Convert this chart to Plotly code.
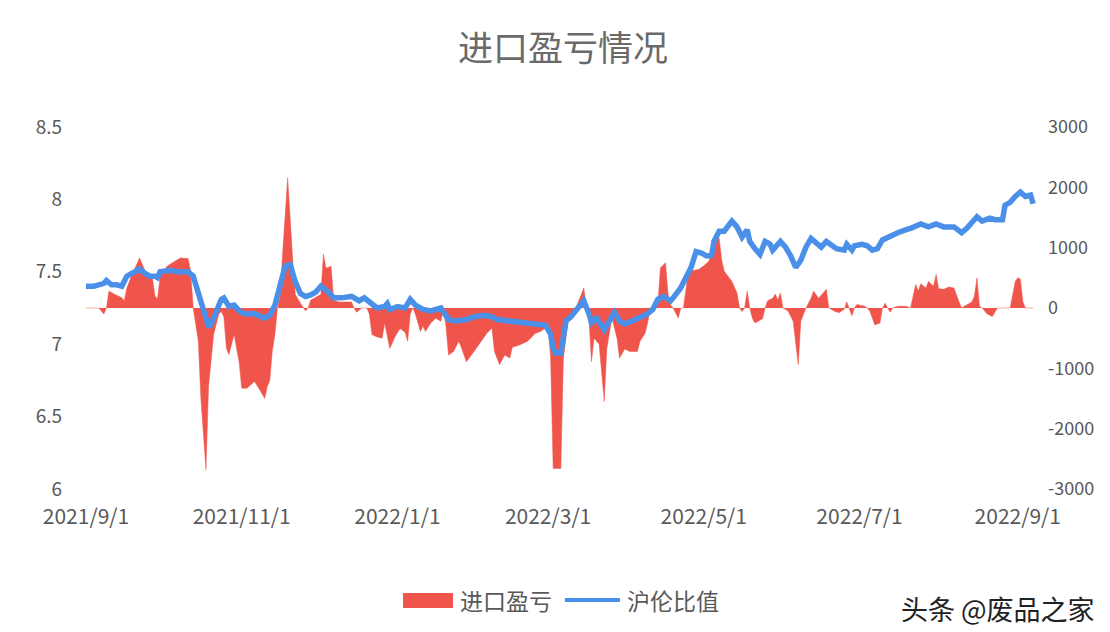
import plotly.graph_objects as go

# 进口盈亏 (right axis)
pl_dates = ["2021-09-01","2021-09-03","2021-09-06","2021-09-08","2021-09-09","2021-09-10","2021-09-12","2021-09-15","2021-09-16","2021-09-17","2021-09-19","2021-09-22","2021-09-25","2021-09-27","2021-09-28","2021-09-29","2021-09-30","2021-10-01","2021-10-03","2021-10-06","2021-10-08","2021-10-11","2021-10-12","2021-10-13","2021-10-15","2021-10-16","2021-10-18","2021-10-19","2021-10-21","2021-10-23","2021-10-24","2021-10-25","2021-10-26","2021-10-27","2021-10-28","2021-10-29","2021-10-31","2021-11-01","2021-11-03","2021-11-06","2021-11-08","2021-11-10","2021-11-11","2021-11-12","2021-11-13","2021-11-14","2021-11-15","2021-11-16","2021-11-17","2021-11-19","2021-11-21","2021-11-22","2021-11-24","2021-11-26","2021-11-27","2021-11-28","2021-11-30","2021-12-02","2021-12-03","2021-12-04","2021-12-06","2021-12-07","2021-12-09","2021-12-14","2021-12-15","2021-12-16","2021-12-18","2021-12-20","2021-12-21","2021-12-22","2021-12-24","2021-12-26","2021-12-27","2021-12-29","2021-12-31","2022-01-02","2022-01-04","2022-01-05","2022-01-06","2022-01-07","2022-01-08","2022-01-10","2022-01-11","2022-01-12","2022-01-14","2022-01-16","2022-01-18","2022-01-19","2022-01-20","2022-01-21","2022-01-23","2022-01-25","2022-01-26","2022-01-28","2022-01-31","2022-02-03","2022-02-05","2022-02-07","2022-02-08","2022-02-10","2022-02-12","2022-02-14","2022-02-15","2022-02-18","2022-02-21","2022-02-24","2022-02-26","2022-02-28","2022-03-01","2022-03-02","2022-03-03","2022-03-06","2022-03-07","2022-03-08","2022-03-09","2022-03-11","2022-03-13","2022-03-15","2022-03-16","2022-03-17","2022-03-18","2022-03-19","2022-03-21","2022-03-23","2022-03-24","2022-03-26","2022-03-28","2022-03-29","2022-03-31","2022-04-02","2022-04-05","2022-04-06","2022-04-08","2022-04-09","2022-04-10","2022-04-12","2022-04-13","2022-04-14","2022-04-16","2022-04-17","2022-04-18","2022-04-19","2022-04-21","2022-04-22","2022-04-23","2022-04-25","2022-04-26","2022-04-29","2022-05-01","2022-05-03","2022-05-05","2022-05-07","2022-05-08","2022-05-09","2022-05-12","2022-05-14","2022-05-15","2022-05-16","2022-05-17","2022-05-18","2022-05-19","2022-05-20","2022-05-21","2022-05-24","2022-05-25","2022-05-26","2022-05-28","2022-05-29","2022-05-30","2022-05-31","2022-06-01","2022-06-03","2022-06-05","2022-06-07","2022-06-08","2022-06-10","2022-06-12","2022-06-13","2022-06-15","2022-06-18","2022-06-19","2022-06-21","2022-06-23","2022-06-25","2022-06-26","2022-06-27","2022-06-28","2022-06-29","2022-06-30","2022-07-03","2022-07-04","2022-07-05","2022-07-07","2022-07-09","2022-07-10","2022-07-11","2022-07-12","2022-07-13","2022-07-14","2022-07-16","2022-07-19","2022-07-21","2022-07-22","2022-07-23","2022-07-24","2022-07-25","2022-07-27","2022-07-28","2022-07-30","2022-07-31","2022-08-01","2022-08-03","2022-08-05","2022-08-07","2022-08-09","2022-08-10","2022-08-11","2022-08-14","2022-08-15","2022-08-16","2022-08-17","2022-08-18","2022-08-19","2022-08-20","2022-08-22","2022-08-23","2022-08-24","2022-08-29","2022-08-30","2022-08-31","2022-09-01","2022-09-02","2022-09-03","2022-09-04","2022-09-07"]
pl_values = [0,0,0,-100,0,280,230,170,120,330,550,830,530,500,200,150,500,610,700,780,830,820,600,0,-550,-1500,-2680,-1300,-440,-100,-60,-150,-670,-770,-600,-440,-900,-1330,-1330,-1220,-1350,-1500,-1300,-1200,-700,-440,0,200,890,2160,775,225,80,-50,0,130,180,225,890,660,690,130,100,100,0,-70,0,0,-100,-440,-480,-500,-250,-670,-480,-340,-400,-550,-100,0,-100,-390,-300,-390,-250,-170,-220,-30,-300,-780,-720,-550,-650,-890,-720,-550,-420,-330,-720,-940,-780,-830,-650,-610,-550,-420,-390,-330,-250,-830,-2660,-2660,-830,-500,-160,-100,120,330,0,-160,-890,-500,-600,-1550,-680,-160,-500,-830,-680,-720,-720,-550,-420,-250,0,30,50,665,750,230,50,0,-165,0,0,610,620,640,700,775,1100,1160,800,610,440,250,0,-60,0,280,0,-165,-250,-180,0,120,160,230,130,250,0,-50,-220,-940,-220,0,160,280,160,310,0,-50,-80,-20,100,0,-130,0,60,30,0,-50,-280,-250,0,80,0,-70,0,30,30,0,200,390,280,400,330,440,360,555,320,310,350,330,100,0,30,100,200,500,30,0,-50,-100,-140,-60,0,0,250,440,500,480,100,0,0]

# 沪伦比值 (left axis)
ratio_dates = ["2021-09-01","2021-09-04","2021-09-08","2021-09-09","2021-09-11","2021-09-13","2021-09-15","2021-09-17","2021-09-20","2021-09-22","2021-09-24","2021-09-26","2021-09-28","2021-09-29","2021-09-30","2021-10-04","2021-10-07","2021-10-11","2021-10-13","2021-10-15","2021-10-17","2021-10-18","2021-10-19","2021-10-20","2021-10-22","2021-10-24","2021-10-25","2021-10-27","2021-10-29","2021-10-31","2021-11-02","2021-11-06","2021-11-10","2021-11-12","2021-11-14","2021-11-16","2021-11-18","2021-11-20","2021-11-22","2021-11-24","2021-11-26","2021-11-28","2021-11-30","2021-12-02","2021-12-05","2021-12-07","2021-12-10","2021-12-14","2021-12-17","2021-12-19","2021-12-21","2021-12-24","2021-12-27","2021-12-28","2021-12-29","2022-01-01","2022-01-04","2022-01-06","2022-01-08","2022-01-11","2022-01-14","2022-01-16","2022-01-18","2022-01-21","2022-01-24","2022-01-28","2022-01-31","2022-02-04","2022-02-07","2022-02-09","2022-02-13","2022-02-17","2022-02-21","2022-02-25","2022-02-28","2022-03-02","2022-03-03","2022-03-04","2022-03-06","2022-03-07","2022-03-08","2022-03-10","2022-03-12","2022-03-15","2022-03-17","2022-03-18","2022-03-20","2022-03-23","2022-03-25","2022-03-27","2022-03-29","2022-03-31","2022-04-03","2022-04-06","2022-04-09","2022-04-11","2022-04-13","2022-04-15","2022-04-18","2022-04-19","2022-04-22","2022-04-24","2022-04-26","2022-04-28","2022-04-30","2022-05-02","2022-05-04","2022-05-05","2022-05-07","2022-05-09","2022-05-12","2022-05-14","2022-05-15","2022-05-16","2022-05-18","2022-05-19","2022-05-21","2022-05-23","2022-05-25","2022-05-27","2022-05-28","2022-05-31","2022-06-02","2022-06-04","2022-06-06","2022-06-08","2022-06-10","2022-06-12","2022-06-14","2022-06-16","2022-06-18","2022-06-20","2022-06-22","2022-06-25","2022-06-26","2022-06-28","2022-06-29","2022-07-02","2022-07-04","2022-07-06","2022-07-08","2022-07-10","2022-07-11","2022-07-14","2022-07-16","2022-07-19","2022-07-21","2022-07-25","2022-07-28","2022-07-31","2022-08-03","2022-08-07","2022-08-10","2022-08-12","2022-08-16","2022-08-18","2022-08-21","2022-08-23","2022-08-26","2022-08-27","2022-08-29","2022-08-31","2022-09-02","2022-09-04","2022-09-05","2022-09-06","2022-09-07"]
ratio_values = [7.40,7.40,7.42,7.44,7.41,7.41,7.40,7.47,7.50,7.52,7.49,7.47,7.47,7.46,7.50,7.51,7.50,7.50,7.47,7.35,7.26,7.18,7.12,7.14,7.23,7.31,7.32,7.26,7.27,7.23,7.21,7.21,7.18,7.20,7.27,7.41,7.54,7.55,7.43,7.35,7.33,7.34,7.36,7.40,7.36,7.32,7.32,7.33,7.30,7.32,7.29,7.25,7.26,7.28,7.24,7.26,7.25,7.31,7.27,7.24,7.23,7.24,7.25,7.17,7.16,7.17,7.19,7.20,7.19,7.17,7.16,7.15,7.14,7.13,7.13,7.07,6.97,6.94,6.94,7.05,7.16,7.19,7.23,7.30,7.21,7.15,7.18,7.10,7.16,7.22,7.16,7.14,7.16,7.18,7.21,7.24,7.31,7.33,7.30,7.32,7.39,7.46,7.53,7.64,7.63,7.61,7.61,7.71,7.78,7.78,7.85,7.81,7.77,7.74,7.79,7.71,7.66,7.62,7.71,7.69,7.65,7.71,7.67,7.61,7.53,7.58,7.67,7.73,7.70,7.67,7.71,7.69,7.66,7.65,7.69,7.65,7.68,7.69,7.68,7.65,7.66,7.72,7.73,7.76,7.77,7.79,7.80,7.83,7.81,7.83,7.81,7.81,7.77,7.80,7.88,7.85,7.87,7.86,7.86,7.96,7.98,8.02,8.05,8.02,8.03,8.03,7.97]

tick_dates = ["2021-09-01","2021-11-01","2022-01-01","2022-03-01","2022-05-01","2022-07-01","2022-09-01"]
tick_labels = ["2021/9/1","2021/11/1","2022/1/1","2022/3/1","2022/5/1","2022/7/1","2022/9/1"]
right_ticks = [3000, 2000, 1000, 0, -1000, -2000, -3000]
right_labels = ["3000", "2000", "1000", "0", "-1000", "-2000", "-3000"]
left_ticks = [8.5, 8, 7.5, 7, 6.5, 6]
left_labels = ["8.5", "8", "7.5", "7", "6.5", "6"]

RED = "#f0554b"
BLUE = "#4a90e8"
GRAY = "#595959"
FONT = "Noto Sans CJK SC"

W, H = 1110, 632
L, R, T, B = 78, 82, 119, 151
PW, PH = W - L - R, H - T - B


def px(x):
    return (x - L) / PW


def py(y):
    return (H - B - y) / PH


fig = go.Figure()
fig.add_trace(go.Scatter(
    x=pl_dates, y=pl_values, name="进口盈亏", mode="lines",
    fill="tozeroy", fillcolor=RED, line=dict(color=RED, width=0.5),
    yaxis="y", showlegend=False,
))
fig.add_trace(go.Scatter(
    x=ratio_dates, y=ratio_values, name="沪伦比值", mode="lines",
    line=dict(color=BLUE, width=5.5), yaxis="y2", showlegend=False,
))

legend_y = 592
shapes = [
    dict(type="rect", xref="paper", yref="paper",
         x0=px(395), x1=px(445), y0=py(600), y1=py(585),
         fillcolor=RED, line=dict(width=0)),
    dict(type="line", xref="paper", yref="paper",
         x0=px(557), x1=px(612), y0=py(legend_y), y1=py(legend_y),
         line=dict(color=BLUE, width=4)),
]
annotations = [
    dict(text="进口盈亏", xref="paper", yref="paper", x=px(450), y=py(legend_y),
         xanchor="left", yanchor="middle", showarrow=False,
         font=dict(family=FONT, size=23, color=GRAY)),
    dict(text="沪伦比值", xref="paper", yref="paper", x=px(617), y=py(legend_y),
         xanchor="left", yanchor="middle", showarrow=False,
         font=dict(family=FONT, size=23, color=GRAY)),
    dict(text="头条 @废品之家", xref="paper", yref="paper",
         x=px(990), y=py(600), xanchor="center", yanchor="middle",
         showarrow=False, font=dict(family=FONT, size=27, color="#222222")),
]

fig.update_layout(
    width=W, height=H,
    paper_bgcolor="white", plot_bgcolor="white",
    margin=dict(l=L, r=R, t=T, b=B),
    font=dict(family=FONT, color=GRAY, size=19),
    title=dict(text="进口盈亏情况", x=0.5, xanchor="center", y=1 - 41 / H, yanchor="middle",
               font=dict(family=FONT, size=35, color="#6a6a6a")),
    xaxis=dict(
        type="date", range=["2021-09-01", "2022-09-08 03:00"],
        tickmode="array", tickvals=tick_dates, ticktext=tick_labels,
        showgrid=False, zeroline=False, showline=False, ticks="",
        ticklabelstandoff=13, tickfont=dict(size=21, color=GRAY),
    ),
    yaxis=dict(
        range=[-3000, 3000], side="right",
        tickmode="array", tickvals=right_ticks, ticktext=right_labels,
        showgrid=False, zeroline=False, showline=False, ticks="",
        ticklabelstandoff=11, tickfont=dict(size=18, color=GRAY),
    ),
    yaxis2=dict(
        range=[6, 8.5], side="left", overlaying="y",
        tickmode="array", tickvals=left_ticks, ticktext=left_labels,
        showgrid=False, zeroline=False, showline=False, ticks="",
        ticklabelstandoff=23, tickfont=dict(size=19, color=GRAY),
    ),
    showlegend=False,
    shapes=shapes,
    annotations=annotations,
)

fig.write_html("out.html")
